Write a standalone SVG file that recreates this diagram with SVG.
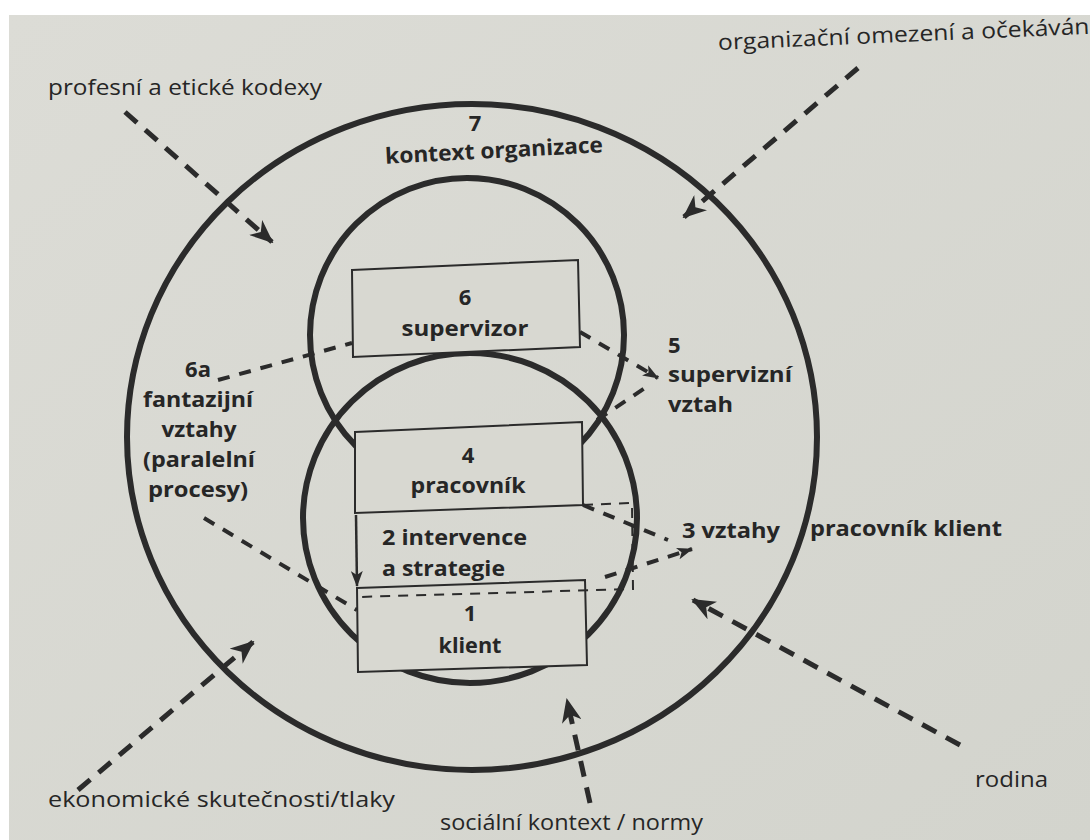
<svg xmlns="http://www.w3.org/2000/svg" width="1090" height="840" viewBox="0 0 1090 840">
<defs>
<style>
.ring{fill:none;stroke:#2b2b2b;stroke-width:6}
.box{fill:#d8d8d1;stroke:#2b2b2b;stroke-width:2}
.ext{fill:none;stroke:#2b2b2b;stroke-width:5;stroke-dasharray:16 11;marker-end:url(#ah)}
.rel{fill:none;stroke:#2b2b2b;stroke-width:4;stroke-dasharray:12 10}
.thin{fill:none;stroke:#2b2b2b;stroke-width:2;stroke-dasharray:10 8}
.lb{font-family:"Open Sans","Liberation Sans",sans-serif;font-weight:700;font-size:22px;fill:#262626}
.lr{font-family:"Open Sans","Liberation Sans",sans-serif;font-weight:400;font-size:22px;fill:#262626}
.c{text-anchor:middle}
</style>
<marker id="ah" viewBox="0 0 24 20" refX="22" refY="10" markerWidth="24" markerHeight="20" markerUnits="userSpaceOnUse" orient="auto">
<path d="M0,0 L24,10 L0,20 L7,10 z" fill="#2b2b2b"/>
</marker>
<marker id="ahs" viewBox="0 0 16 12" refX="15" refY="6" markerWidth="16" markerHeight="12" markerUnits="userSpaceOnUse" orient="auto">
<path d="M0,0 L16,6 L0,12 L4,6 z" fill="#2b2b2b"/>
</marker>
<linearGradient id="paper" x1="0" y1="0" x2="1" y2="1">
<stop offset="0" stop-color="#dcdcd6"/>
<stop offset="1" stop-color="#d3d4cd"/>
</linearGradient>
</defs>
<rect width="1090" height="840" fill="#ffffff"/>
<rect x="9" y="15" width="1081" height="825" fill="url(#paper)"/>

<g id="rings">
<ellipse id="ring-organizace" class="ring" cx="472" cy="437" rx="345" ry="333"/>
<circle id="ring-supervizor" class="ring" cx="467" cy="335" r="157"/>
<ellipse id="ring-pracovnik" class="ring" cx="470" cy="518" rx="167" ry="165"/>
</g>

<g id="connectors">
<path class="ext" d="M125,112 L272,242"/>
<path class="ext" d="M858,68 L684,217"/>
<path class="ext" d="M78,790 L253,642"/>
<path class="ext" d="M590,803 L567,700"/>
<path class="ext" d="M960,745 L693,600"/>
<path class="rel" d="M218,380 L352,343"/>
<path class="rel" d="M204,518 L357,610"/>
<path class="rel" d="M580,332 L658,378" marker-end="url(#ahs)"/>
<path class="rel" d="M597,420 L648,386"/>
<path class="rel" d="M583,505 L668,540"/>
<path class="rel" d="M605,577 L692,549" marker-end="url(#ahs)"/>
</g>

<g id="node-6">
<polygon class="box" points="352,270 578,260 580,347 353,357"/>
<text class="lb c" x="465" y="305">6</text>
<text class="lb c" x="465" y="336" textLength="127" lengthAdjust="spacingAndGlyphs">supervizor</text>
</g>

<g id="node-4">
<polygon class="box" points="355,432 582,422 583,505 355,513"/>
<text class="lb c" x="468" y="463">4</text>
<text class="lb c" x="468" y="493" textLength="115" lengthAdjust="spacingAndGlyphs">pracovník</text>
</g>

<g id="node-1">
<polygon class="box" points="357,588 585,580 587,665 358,672"/>
<text class="lb c" x="470" y="621">1</text>
<text class="lb c" x="470" y="653" textLength="63" lengthAdjust="spacingAndGlyphs">klient</text>
</g>

<g id="node-2">
<path class="thin" d="M583,505 L632,503 L633,589 L358,597"/>
<path d="M356,515 L357,586" fill="none" stroke="#2b2b2b" stroke-width="2.5" marker-end="url(#ahs)"/>
<text class="lb" x="382" y="545" textLength="145" lengthAdjust="spacingAndGlyphs">2 intervence</text>
<text class="lb" x="382" y="576" textLength="123" lengthAdjust="spacingAndGlyphs">a strategie</text>
</g>

<g id="node-7">
<text class="lb c" x="475" y="131">7</text>
<text class="lb c" x="494" y="158" textLength="218" lengthAdjust="spacingAndGlyphs" transform="rotate(-3 494 150)">kontext organizace</text>
</g>

<g id="label-5">
<text class="lb" x="668" y="353">5</text>
<text class="lb" x="668" y="382" textLength="124" lengthAdjust="spacingAndGlyphs">supervizní</text>
<text class="lb" x="668" y="412" textLength="65" lengthAdjust="spacingAndGlyphs">vztah</text>
</g>

<g id="label-3">
<text class="lb" x="682" y="538" textLength="98" lengthAdjust="spacingAndGlyphs">3 vztahy</text>
<text class="lb" x="810" y="536" textLength="192" lengthAdjust="spacingAndGlyphs">pracovník klient</text>
</g>

<g id="label-6a">
<text class="lb c" x="198" y="377">6a</text>
<text class="lb c" x="198" y="407" textLength="110" lengthAdjust="spacingAndGlyphs">fantazijní</text>
<text class="lb c" x="199" y="437" textLength="75" lengthAdjust="spacingAndGlyphs">vztahy</text>
<text class="lb c" x="199" y="467" textLength="112" lengthAdjust="spacingAndGlyphs">(paralelní</text>
<text class="lb c" x="198" y="497" textLength="100" lengthAdjust="spacingAndGlyphs">procesy)</text>
</g>

<g id="label-kodexy">
<text class="lr" x="48" y="95" textLength="274" lengthAdjust="spacingAndGlyphs">profesní a etické kodexy</text>
</g>
<g id="label-organizacni">
<text class="lr" x="718" y="50" textLength="378" lengthAdjust="spacingAndGlyphs" transform="rotate(-2.5 718 42)">organizační omezení a očekávání</text>
</g>
<g id="label-ekonomicke">
<text class="lr" x="48" y="807" textLength="347" lengthAdjust="spacingAndGlyphs">ekonomické skutečnosti/tlaky</text>
</g>
<g id="label-socialni">
<text class="lr" x="440" y="830" textLength="263" lengthAdjust="spacingAndGlyphs">sociální kontext / normy</text>
</g>
<g id="label-rodina">
<text class="lr" x="975" y="787" textLength="73" lengthAdjust="spacingAndGlyphs">rodina</text>
</g>
</svg>
